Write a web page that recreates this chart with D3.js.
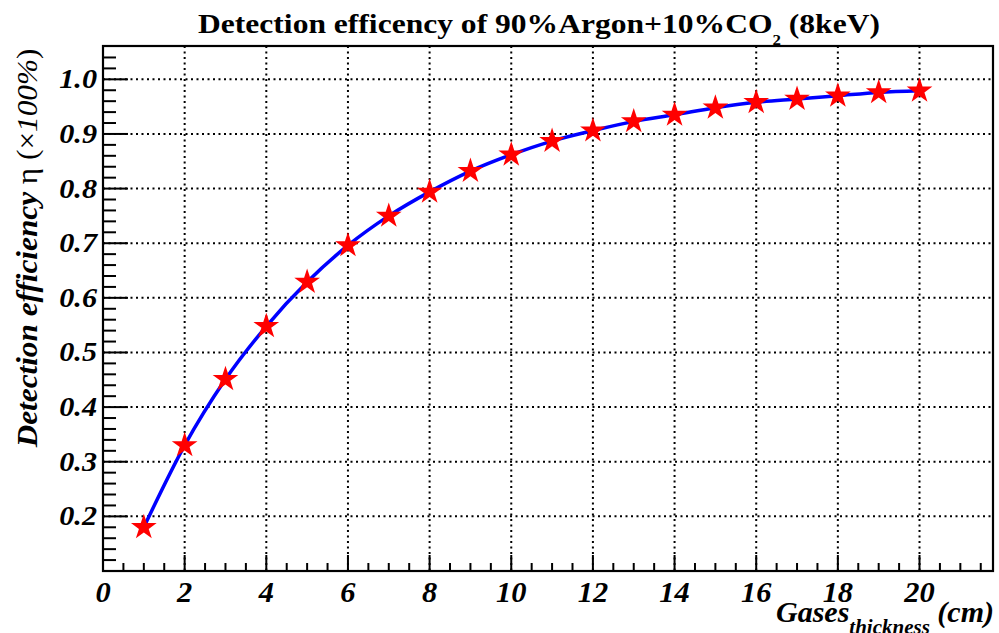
<!DOCTYPE html>
<html>
<head>
<meta charset="utf-8">
<script src="https://cdn.jsdelivr.net/npm/d3@7"></script>
<style>
  body { margin: 0; background: #fff; }
  text { font-family: "Liberation Serif", "DejaVu Serif", serif; }
</style>
</head>
<body>
<div class="chart"></div>
<script>
// gas thickness in cm and detection efficiency
var thickness = [1, 2, 3, 4, 5, 6, 7, 8, 9, 10, 11, 12, 13, 14, 15, 16, 17, 18, 19, 20];
var efficiency = [0.180, 0.330, 0.451, 0.548, 0.629, 0.696, 0.750, 0.794, 0.832, 0.862,
                  0.887, 0.906, 0.923, 0.935, 0.948, 0.958, 0.964, 0.970, 0.976, 0.979];
var xTicks = [0, 2, 4, 6, 8, 10, 12, 14, 16, 18, 20];
var yTicks = [0.2, 0.3, 0.4, 0.5, 0.6, 0.7, 0.8, 0.9, 1.0];

var W = 999, H = 633;
var margin = {top: 46, right: 6, bottom: 62, left: 103},
  width = W - margin.left - margin.right,
  height = H - margin.top - margin.bottom;

var svg = d3.select(".chart")
.append("svg")
  .attr("width", W)
  .attr("height", H);

var g = svg.append("g")
  .attr("transform", "translate(" + margin.left + "," + margin.top + ")");

var x = d3.scaleLinear().domain([0, 21.8]).range([0, width]);
var y = d3.scaleLinear().domain([0.1, 1.061]).range([height, 0]);

// stretch a text horizontally so it covers the wanted width
function fitWidth(t, target, pre) {
  var w = t.node().getBBox().width;
  t.attr("transform", pre + " scale(" + (target / w) + ",1)");
}

// dotted grid
g.selectAll(".vgrid")
  .data(xTicks.filter(function(d) { return d > 0; }))
  .enter().append("line")
  .attr("x1", function(d) { return x(d); })
  .attr("x2", function(d) { return x(d); })
  .attr("y1", 0).attr("y2", height)
  .attr("stroke", "#000").attr("stroke-width", 2)
  .attr("stroke-dasharray", "2,3.5");

g.selectAll(".hgrid")
  .data(yTicks)
  .enter().append("line")
  .attr("y1", function(d) { return y(d); })
  .attr("y2", function(d) { return y(d); })
  .attr("x1", 0).attr("x2", width)
  .attr("stroke", "#000").attr("stroke-width", 2)
  .attr("stroke-dasharray", "2,3.5");

// ticks (inside the frame)
var xMinor = d3.range(0, 21.8, 0.5);
g.selectAll(".xt")
  .data(xMinor)
  .enter().append("line")
  .attr("x1", function(d) { return x(d); })
  .attr("x2", function(d) { return x(d); })
  .attr("y1", height)
  .attr("y2", function(d) { return height - (d % 2 === 0 ? 16 : 8); })
  .attr("stroke", "#000").attr("stroke-width", 2);

var yMinor = d3.range(0, 48).map(function(i) { return +(0.1 + i * 0.02).toFixed(2); })
  .filter(function(d) { return d <= 1.061; });
g.selectAll(".yt")
  .data(yMinor)
  .enter().append("line")
  .attr("y1", function(d) { return y(d); })
  .attr("y2", function(d) { return y(d); })
  .attr("x1", 0)
  .attr("x2", function(d) { return Math.abs(d * 10 - Math.round(d * 10)) < 1e-6 ? 25 : 13; })
  .attr("stroke", "#000").attr("stroke-width", 2);

// frame
g.append("rect")
  .attr("width", width).attr("height", height)
  .attr("fill", "none").attr("stroke", "#000").attr("stroke-width", 2.2);

// tick labels
g.selectAll(".xl")
  .data(xTicks)
  .enter().append("text")
  .attr("transform", function(d) { return "translate(" + x(d) + "," + (height + 31) + ") scale(1.05,1)"; })
  .attr("text-anchor", "middle")
  .style("font-size", "29px").style("font-weight", "bold").style("font-style", "italic")
  .text(function(d) { return d; });

g.selectAll(".yl")
  .data(yTicks)
  .enter().append("text")
  .attr("transform", function(d) { return "translate(-6," + (y(d) + 9) + ") scale(1.12,1)"; })
  .attr("text-anchor", "end")
  .style("font-size", "27px").style("font-weight", "bold").style("font-style", "italic")
  .text(function(d) { return d.toFixed(1); });

// fitted curve
var pts = thickness.map(function(t, i) { return [t, efficiency[i]]; });
var line = d3.line()
  .x(function(d) { return x(d[0]); })
  .y(function(d) { return y(d[1]); })
  .curve(d3.curveMonotoneX);

g.append("path")
  .datum(pts)
  .attr("d", line)
  .attr("fill", "none")
  .attr("stroke", "#0000ff")
  .attr("stroke-width", 3.5);

// star markers
var star = d3.symbol().type(d3.symbolStar).size(205);
g.selectAll(".star")
  .data(pts)
  .enter().append("path")
  .attr("d", star)
  .attr("transform", function(d) { return "translate(" + x(d[0]) + "," + y(d[1]) + ")"; })
  .attr("fill", "#ff0000");

// title
var title = svg.append("text")
  .attr("text-anchor", "middle")
  .style("font-size", "28px").style("font-weight", "bold");
title.append("tspan").text("Detection efficency of 90%Argon+10%CO");
title.append("tspan").attr("dy", 12).style("font-size", "15px").text("2");
title.append("tspan").attr("dy", -12).text(" (8keV)");
fitWidth(title, 682, "translate(539,33)");

// y axis title
var ytitle = svg.append("text")
  .attr("text-anchor", "middle")
  .style("font-size", "29px");
ytitle.append("tspan").style("font-weight", "bold").style("font-style", "italic").text("Detection efficiency");
ytitle.append("tspan").text("  \u03b7 (\u00d7");
ytitle.append("tspan").style("font-style", "italic").text("100%");
ytitle.append("tspan").text(")");
fitWidth(ytitle, 400, "translate(37,248) rotate(-90)");

// x axis title
var xtitle = svg.append("text")
  .attr("x", 994).attr("y", 622)
  .attr("text-anchor", "end")
  .style("font-size", "30px").style("font-weight", "bold").style("font-style", "italic");
xtitle.append("tspan").text("Gases");
xtitle.append("tspan").attr("dy", 12).style("font-size", "21px").text("thickness");
xtitle.append("tspan").attr("dy", -12).text(" (cm)");
</script>
</body>
</html>
